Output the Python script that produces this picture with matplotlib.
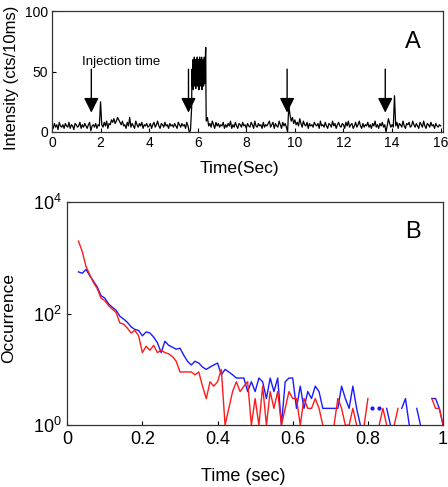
import numpy as np
import matplotlib
matplotlib.use("Agg")
import matplotlib.pyplot as plt
from matplotlib.ticker import FixedLocator, NullLocator

plt.rcParams['font.family'] = ['Liberation Sans', 'DejaVu Sans']
plt.rcParams['mathtext.fontset'] = 'custom'
plt.rcParams['mathtext.rm'] = 'Liberation Sans'
plt.rcParams['mathtext.it'] = 'Liberation Sans'

# ---------------- Panel A data (intensity trace) ----------------
# baseline before burst, 0.05 s steps starting at 0 s
trace_pre = [
    5, 3, 7, 4, 6, 2, 8, 5, 4, 6, 3, 7, 5, 4, 8, 3, 6, 5, 2, 7,
    6, 4, 5, 8, 3, 6, 4, 7, 5, 3, 6, 8, 1, 5, 6, 4, 7, 3, 6, 5,
    25, 6, 4, 8, 5, 9, 3, 7, 6, 10, 8, 11, 7, 9, 12, 10, 8, 6, 9, 5,
    6, 3, 8, 5, 12, 4, 7, 5, 3, 9, 6, 4, 7, 5, 8, 3, 6, 5, 7, 4,
    5, 7, 3, 6, 8, 4, 6, 9, 5, 3, 7, 6, 4, 8, 5, 6, 3, 7, 5, 6,
    4, 7, 5, 3, 8, 6, 4, 7, 5, 6, 3, 8, 5, 0, 1,
]
# burst, 0.01 s steps
trace_burst = [
    20, 45, 52, 38, 55, 42, 60, 35, 50, 58, 40, 62, 45, 38, 55, 48, 60, 36, 52, 44,
    58, 40, 50, 62, 38, 55, 45, 60, 42, 50, 35, 58, 48, 62, 40, 54, 44, 60, 38, 52,
    46, 62, 35, 55, 48, 58, 42, 50, 60, 38, 56, 44, 62, 48, 40, 58, 52, 66, 70, 30,
]
# baseline after burst, 0.05 s steps
trace_post = [
    9, 12, 5, 7, 4, 9, 6, 3, 8, 5, 7, 4, 6,
    5, 8, 3, 6, 4, 7, 5, 9, 3, 6, 4, 8, 5, 3, 7, 6, 4, 8, 5, 6,
    3, 7, 5, 4, 8, 6, 3, 9, 5, 4, 7, 5, 6, 3, 8, 4, 6, 5, 7, 9,
    4, 6, 8, 3, 7, 5, 4, 9, 6, 3, 8, 5, 7, 4, 0, 22, 14, 9, 12, 7,
    10, 6, 8, 5, 11, 7, 4, 9, 6, 5, 8, 3, 7, 5, 6, 4, 8, 6, 5, 7,
    3, 9, 5, 6, 4, 8, 5, 3, 7, 6, 4, 9, 5, 7, 3, 6, 8, 5, 4, 7,
    6, 3, 8, 5, 9, 4, 6, 7, 3, 5, 8, 4, 6, 9, 5, 3, 7, 4, 6, 5,
    8, 4, 6, 3, 7, 5, 9, 4, 6, 3, 7, 5, 8, 4, 6, 0, 5, 11, 7, 4,
    6, 4, 30, 5, 8, 3, 7, 6, 4, 9, 5, 3, 7, 6, 8, 4, 5, 9, 6, 4,
    7, 5, 3, 8, 6, 4, 9, 5, 3, 7, 6, 4, 8, 5, 6, 3, 7, 5, 4, 6,
    5,
]
injection_times = [1.62, 5.62, 9.68, 13.72]
a_xticks = [0, 2, 4, 6, 8, 10, 12, 14, 16]
a_yticks = [0, 50, 100]

# ---------------- Panel B data (occurrence histograms) ----------------
nan = np.nan
b_time = [round(0.03 + 0.01 * i, 2) for i in range(98)]
blue_counts = [
    560, 530, 620, 480, 380, 300, 210, 190, 150, 130,      # 0.03-0.12
    115, 90, 80, 70, 58, 52, 50, 40, 47, 45,                # 0.13-0.22
    38, 30, 20, 32, 27, 25, 23, 24, 18, 14,                 # 0.23-0.32
    12, 14, 13, 11, 10, 11, 12, 13, 8, 10,                  # 0.33-0.42
    9, 8, 7, 7, 7, 4, 6, 4, 7, 6,                           # 0.43-0.52
    3, 7, 4, 7, 1, 6, 7, 7, 2, 5,                           # 0.53-0.62
    2, 4, 3, 5, 4, 2, 2, 2, 2, 2,                           # 0.63-0.72
    5, 3, 2, 5, 2, 1, nan, nan, 2, nan,                     # 0.73-0.82
    2, nan, 2, 1, nan, nan, 2, 3, 1, nan,                   # 0.83-0.92
    2, 1, nan, nan, 3, 3, 2, 1,                             # 0.93-1.00
]
red_counts = [
    2000, 1300, 700, 500, 360, 280, 190, 170, 140, 120,     # 0.03-0.12
    105, 68, 65, 55, 45, 50, 40, 20, 26, 22,                # 0.13-0.22
    27, 20, 22, 20, 19, 17, 14, 9, 9, 9,                    # 0.23-0.32
    9, 8, 9, 5, 3, 6, 5, 6, 10, 1,                          # 0.33-0.42
    2, 4, 6, 4, 5, 6, 1, 3, 1, 5,                           # 0.43-0.52
    1, 4, 2, 4, 1, 2, 4, 3, 3, 1,                           # 0.53-0.62
    3, 2, 2, 3, 2, 1, nan, nan, 1, 3,                       # 0.63-0.72
    2, 1, 1, 2, 1, nan, 1, 3, nan, nan,                     # 0.73-0.82
    1, 2, 1, nan, 1, 2, nan, nan, nan, nan,                 # 0.83-0.92
    nan, nan, nan, nan, 3, 2, 2, 1,                         # 0.93-1.00
]
b_xticks = [0, 0.2, 0.4, 0.6, 0.8, 1.0]
b_xticklabels = ['0', '0.2', '0.4', '0.6', '0.8', '1']
b_yticks = [1, 100, 10000]

# ---------------- figure ----------------
fig = plt.figure(figsize=(4.48, 4.87), dpi=100)
axA = fig.add_axes([0.116, 0.729, 0.873, 0.248])
axB = fig.add_axes([0.150, 0.127, 0.839, 0.458])

# Panel A
t_pre = 0.05 * np.arange(len(trace_pre))
t_burst = t_pre[-1] + 0.05 + 0.01 * np.arange(len(trace_burst))
t_post = t_burst[-1] + 0.01 + 0.05 * np.arange(len(trace_post))
tA = np.concatenate([t_pre, t_burst, t_post])
yA = np.concatenate([trace_pre, trace_burst, trace_post])
axA.plot(tA, yA, color='black', lw=0.9)
axA.set_xlim(0, 16.1)
axA.set_ylim(0, 100)
axA.set_xticks(a_xticks)
axA.set_yticks(a_yticks)
axA.tick_params(direction='in', length=3, labelsize=10, pad=3)
for i, xt in enumerate(injection_times):
    axA.annotate('', xy=(xt, 16), xytext=(xt, 52),
                 arrowprops=dict(arrowstyle='-|>,head_length=0.9,head_width=0.45',
                                 color='black', lw=1.0, mutation_scale=10,
                                 shrinkA=0, shrinkB=0))
axA.text(1.25, 58, 'Injection time', fontsize=9.5, ha='left', va='center')
axA.text(0.923, 0.744, 'A', transform=axA.transAxes, fontsize=17,
         ha='center', va='center')
axA.set_ylabel('Intensity (cts/10ms)', fontsize=12)
axA.yaxis.set_label_coords(-0.085, 0.45)
axA.set_xlabel('Time(Sec)', fontsize=12.5)
axA.xaxis.set_label_coords(0.48, -0.24)
for s in axA.spines.values():
    s.set_linewidth(0.9)
    s.set_color('#333333')

# Panel B
bt = np.array(b_time)
for counts, col in ((blue_counts, '#1a1aff'), (red_counts, '#ff1a1a')):
    c = np.array(counts, dtype=float)
    axB.plot(bt, c, color=col, lw=1.0, clip_on=True)
    # isolated points (no neighbours) drawn as dots
    valid = ~np.isnan(c)
    prev_ok = np.r_[False, valid[:-1]]
    next_ok = np.r_[valid[1:], False]
    iso = valid & ~prev_ok & ~next_ok
    axB.plot(bt[iso], c[iso], 'o', color=col, ms=3, mew=0)
axB.set_yscale('log')
axB.set_xlim(0, 1)
axB.set_ylim(1, 1e4)
axB.yaxis.set_major_locator(FixedLocator(b_yticks))
axB.yaxis.set_minor_locator(NullLocator())
axB.set_xticks(b_xticks)
axB.set_xticklabels(b_xticklabels)
axB.tick_params(direction='in', length=3, labelsize=13, pad=4)
axB.text(0.92, 0.865, 'B', transform=axB.transAxes, fontsize=17,
         ha='center', va='center')
axB.set_ylabel('Occurrence', fontsize=12.5)
axB.yaxis.set_label_coords(-0.136, 0.48)
axB.set_xlabel('Time (sec)', fontsize=13)
axB.xaxis.set_label_coords(0.468, -0.19)
for s in axB.spines.values():
    s.set_linewidth(0.9)
    s.set_color('#333333')

fig.savefig('out.png', dpi=100)
